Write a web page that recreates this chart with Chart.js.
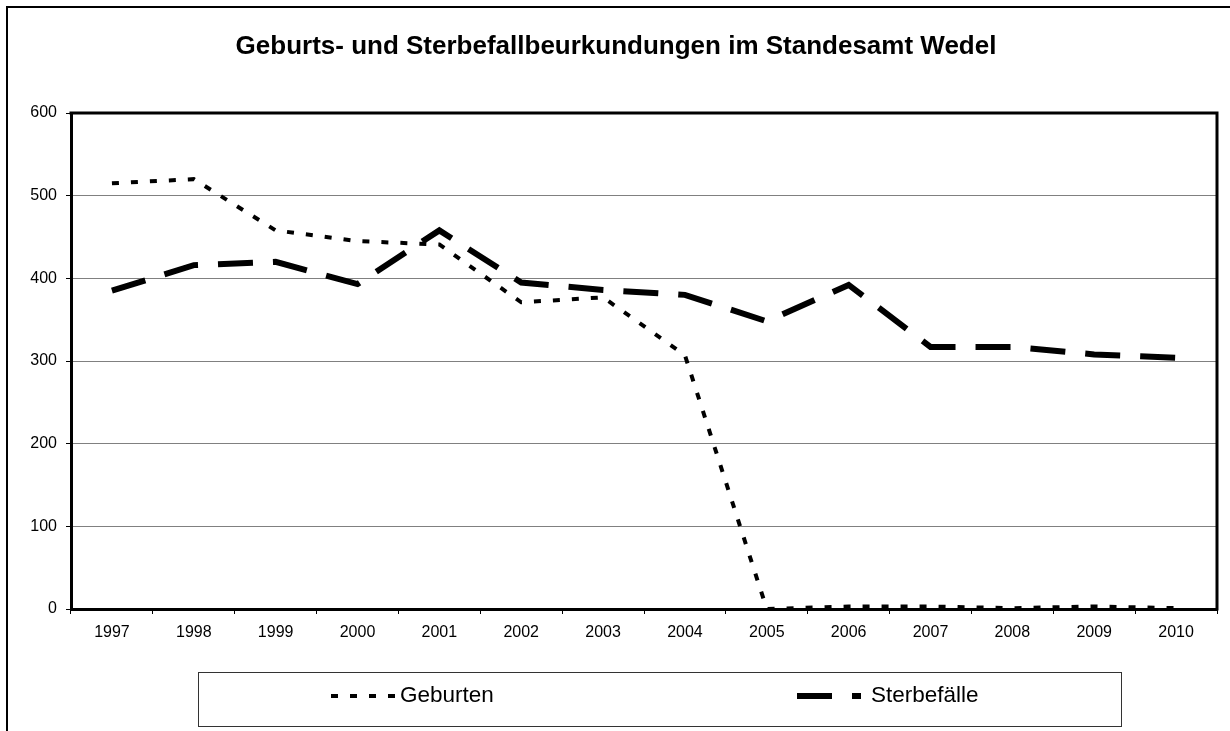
<!DOCTYPE html>
<html><head><meta charset="utf-8">
<script src="https://cdn.jsdelivr.net/npm/chart.js@4/dist/chart.umd.min.js"></script>
<style>html,body{margin:0;padding:0;background:#fff;overflow:hidden}#wrap{width:1230px;height:731px;position:relative}</style>
</head><body><div id="wrap"><canvas id="c" width="1230" height="731"></canvas></div>
<script>
const chartTitle = 'Geburts- und Sterbefallbeurkundungen im Standesamt Wedel';
const years = ['1997','1998','1999','2000','2001','2002','2003','2004','2005','2006','2007','2008','2009','2010'];
const geburten = [515, 520, 458, 445, 441, 371, 377, 307, 0, 3, 3, 1, 3, 1];
const sterbefaelle = [385, 416, 420, 393, 458, 395, 386, 380, 348, 392, 317, 317, 308, 304];
const seriesNames = ['Geburten', 'Sterbefälle'];
const yMin = 0, yMax = 600, yStep = 100;

const FONT = "'Liberation Sans', Arial, sans-serif";

const decor = {
  id: 'decor',
  afterDraw(chart) {
    const ctx = chart.ctx;
    const a = chart.chartArea;
    ctx.save();
    // outer frame (top + left visible)
    ctx.strokeStyle = '#000';
    ctx.lineWidth = 2;
    ctx.beginPath();
    ctx.moveTo(7, 740); ctx.lineTo(7, 7); ctx.lineTo(1240, 7);
    ctx.stroke();
    // plot area top and right border
    ctx.lineWidth = 3;
    ctx.beginPath();
    ctx.moveTo(a.left - 1.5, a.top); ctx.lineTo(a.right, a.top); ctx.lineTo(a.right, a.bottom + 1.5);
    ctx.stroke();
    // title
    ctx.fillStyle = '#000';
    ctx.font = 'bold 26px ' + FONT;
    ctx.textAlign = 'center';
    ctx.textBaseline = 'middle';
    ctx.fillText(chartTitle, 616, 47);
    // legend box
    ctx.lineWidth = 1;
    ctx.strokeStyle = '#333';
    ctx.strokeRect(198.5, 672.5, 923, 54);
    const sx = [331, 797];
    const tx = [400, 871];
    const ly = 696;
    chart.data.datasets.forEach((ds, i) => {
      ctx.strokeStyle = ds.borderColor;
      ctx.lineWidth = ds.borderWidth;
      ctx.setLineDash(ds.borderDash);
      ctx.lineCap = 'butt';
      ctx.beginPath();
      ctx.moveTo(sx[i], ly); ctx.lineTo(sx[i] + 64, ly);
      ctx.stroke();
      ctx.setLineDash([]);
      ctx.fillStyle = '#000';
      ctx.font = '22.5px ' + FONT;
      ctx.textAlign = 'left';
      ctx.textBaseline = 'middle';
      ctx.fillText(ds.label, tx[i], ly);
    });
    ctx.restore();
  }
};

new Chart(document.getElementById('c'), {
  type: 'line',
  data: {
    labels: years,
    datasets: [
      { label: seriesNames[0], data: geburten, borderColor: '#000', borderWidth: 4, borderDash: [7, 12],
        pointRadius: 0, tension: 0, fill: false, borderCapStyle: 'butt' },
      { label: seriesNames[1], data: sterbefaelle, borderColor: '#000', borderWidth: 6, borderDash: [35, 20],
        pointRadius: 0, tension: 0, fill: false, borderCapStyle: 'butt' }
    ]
  },
  options: {
    responsive: false,
    animation: false,
    devicePixelRatio: 1,
    layout: { padding: { top: 113, right: 13, bottom: 0, left: 0 } },
    plugins: { legend: { display: false }, title: { display: false }, tooltip: { enabled: false } },
    scales: {
      x: {
        type: 'category',
        offset: true,
        grid: { display: true, drawOnChartArea: false, drawTicks: true, tickLength: 5, offset: true, color: '#000', lineWidth: 1 },
        border: { display: true, color: '#000', width: 3 },
        ticks: { color: '#000', font: { family: FONT, size: 16 }, padding: 9, maxRotation: 0, autoSkip: false },
        afterFit(s) { s.height = 122; }
      },
      y: {
        min: yMin, max: yMax,
        grid: { color: '#808080', lineWidth: 1, tickLength: 5, tickColor: '#000', drawTicks: true },
        border: { display: true, color: '#000', width: 3 },
        ticks: { stepSize: yStep, color: '#000', font: { family: FONT, size: 16 }, padding: 9 },
        afterFit(s) { s.width = 71; }
      }
    }
  },
  plugins: [decor]
});
</script>
</body></html>
